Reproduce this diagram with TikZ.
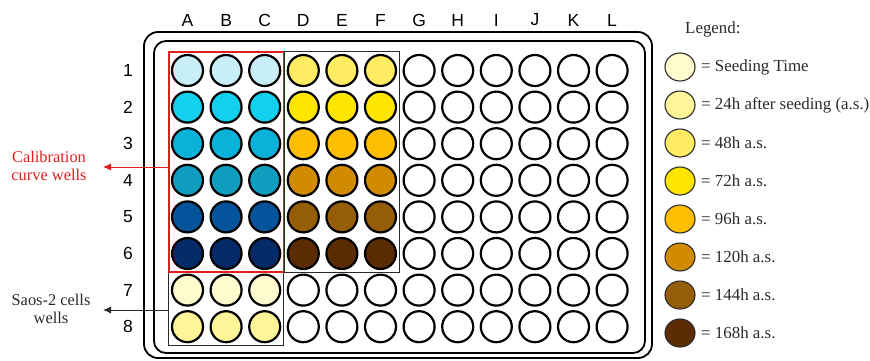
\documentclass[tikz,border=0pt]{standalone}
\usepackage{fontspec}
\setmainfont{Liberation Serif}
\newfontfamily\arialf{Liberation Sans}
\usetikzlibrary{arrows.meta,fit,shapes.geometric}
\definecolor{bl1}{HTML}{C8EEF8}
\definecolor{bl2}{HTML}{12D0F0}
\definecolor{bl3}{HTML}{0AB2DA}
\definecolor{bl4}{HTML}{0F9EC0}
\definecolor{bl5}{HTML}{04539B}
\definecolor{bl6}{HTML}{052A68}
\definecolor{ye0}{HTML}{FFFBCF}
\definecolor{ye1}{HTML}{FFF497}
\definecolor{ye2}{HTML}{FFEC62}
\definecolor{ye3}{HTML}{FFE500}
\definecolor{ye4}{HTML}{FFBE00}
\definecolor{ye5}{HTML}{D08B00}
\definecolor{ye6}{HTML}{945D06}
\definecolor{ye7}{HTML}{5B2B02}
\definecolor{calred}{HTML}{E01E1E}
\definecolor{txt}{HTML}{2A2A2A}
\begin{document}
\begin{tikzpicture}[x=1pt,y=-1pt,
  well/.style={circle,draw=black,line width=2.2pt,minimum size=31pt,inner sep=0pt},
  lwell/.style={ellipse,draw=txt,line width=1.1pt,minimum width=30pt,minimum height=28pt,inner sep=0pt},
  collab/.style={font=\arialf\fontsize{17.5}{19}\selectfont,text=black},
  ltext/.style={anchor=west,font=\fontsize{16.9}{18}\selectfont,text=txt,inner sep=0pt},
  sidetext/.style={align=center,font=\fontsize{16.4}{18.5}\selectfont,inner sep=0pt},
  plate/.style={draw=black,line width=1.8pt},
  grpbox/.style={draw=txt,line width=0.9pt,inner sep=2pt},
  arr/.style={-{Latex[length=8pt,width=7pt]},line width=0.8pt}]
\useasboundingbox (0,0) rectangle (870,360);
% plate
\draw[plate,rounded corners=14pt] (144,32) rectangle (652,358);
\draw[plate,rounded corners=12pt] (154,41) rectangle (645,353);
% column and row labels
\foreach \c [count=\i from 0] in {A,B,C,D,E,F,G,H,I,J,K,L}
  \node[collab] (col\c) at ({187.5+\i*38.6},20) {\c};
\foreach \r in {1,...,8}
  \node[collab] (row\r) at (128,{70.5+(\r-1)*36.6}) {\r};
% white wells
\foreach \c [count=\i from 6] in {G,H,I,J,K,L}
  \foreach \r in {1,...,8}
    \node[well,fill=white] (\c\r) at ({187.5+\i*38.6},{70.5+(\r-1)*36.6}) {};
\foreach \c [count=\i from 3] in {D,E,F}
  \foreach \r in {7,8}
    \node[well,fill=white] (\c\r) at ({187.5+\i*38.6},{70.5+(\r-1)*36.6}) {};
% calibration wells
\foreach \r/\col in {1/bl1,2/bl2,3/bl3,4/bl4,5/bl5,6/bl6,7/ye0,8/ye1}
  \foreach \c [count=\i from 0] in {A,B,C}
    \node[well,fill=\col] (\c\r) at ({187.5+\i*38.6},{70.5+(\r-1)*36.6}) {};
% time wells
\foreach \r/\col in {1/ye2,2/ye3,3/ye4,4/ye5,5/ye6,6/ye7}
  \foreach \c [count=\i from 3] in {D,E,F}
    \node[well,fill=\col] (\c\r) at ({187.5+\i*38.6},{70.5+(\r-1)*36.6}) {};
% group boxes
\node[grpbox,inner sep=2.5pt,fit=(D1)(F6)] (timebox) {};
\node[grpbox,fit=(A7)(C8)] (saos) {};
\node[grpbox,draw=calred,line width=1.3pt,fit=(A1)(C6)] (calib) {};
% side labels
\node[sidetext,text=calred] (caltext) at (49,166) {Calibration\\curve wells};
\coordinate (ca) at (103,167);
\draw[arr,calred] (calib.west |- ca) -- (ca);
\node[sidetext,text=txt] (saostext) at (51,309) {Saos-2 cells\\wells};
\coordinate (sa) at (103,310);
\draw[arr,txt] (saos.west |- sa) -- (sa);
% legend
\node[ltext] (legtitle) at (685,29) {Legend:};
\foreach \col/\t [count=\k from 0] in {ye0/{= Seeding Time},ye1/{= 24h after seeding (a.s.)},ye2/{= 48h a.s.},ye3/{= 72h a.s.},ye4/{= 96h a.s.},ye5/{= 120h a.s.},ye6/{= 144h a.s.},ye7/{= 168h a.s.}}{
  \node[lwell,fill=\col] (leg\k) at (680,{67+\k*38}) {};
  \node[ltext] (legt\k) at (701,{67+\k*38}) {\t};
}
\end{tikzpicture}
\end{document}
